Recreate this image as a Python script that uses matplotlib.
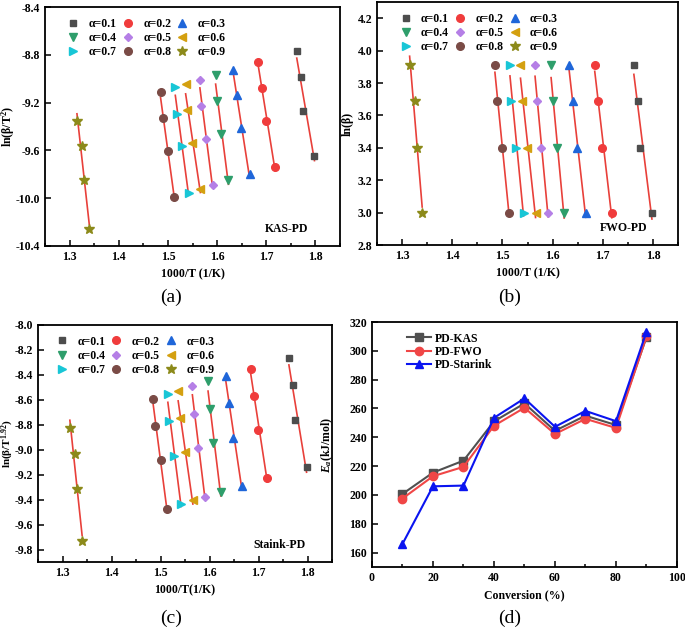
import matplotlib
matplotlib.use('Agg')
import matplotlib.pyplot as plt
from matplotlib.ticker import MultipleLocator, FormatStrFormatter
import numpy as np

plt.rcParams['font.family'] = ['Liberation Serif', 'DejaVu Serif']
plt.rcParams['font.weight'] = 'bold'
plt.rcParams['axes.labelweight'] = 'bold'
plt.rcParams['axes.unicode_minus'] = False
plt.rcParams['mathtext.fontset'] = 'custom'
plt.rcParams['mathtext.rm'] = 'Liberation Serif:bold'
plt.rcParams['mathtext.it'] = 'Liberation Serif:italic:bold'
plt.rcParams['mathtext.bf'] = 'Liberation Serif:bold'

# datos (orden alfa 0.1 ... 0.9)
alfas = ['0.1', '0.2', '0.3', '0.4', '0.5', '0.6', '0.7', '0.8', '0.9']
x_50 = [1.762, 1.684, 1.633, 1.597, 1.565, 1.536, 1.515, 1.485, 1.315]
x_40 = [1.770, 1.691, 1.640, 1.600, 1.568, 1.539, 1.518, 1.489, 1.325]
x_30 = [1.775, 1.699, 1.648, 1.608, 1.577, 1.549, 1.528, 1.500, 1.330]
x_20 = [1.798, 1.718, 1.666, 1.623, 1.591, 1.566, 1.542, 1.513, 1.340]

# FWO: ln(beta)
fwo_y = [3.91, 3.69, 3.40, 3.00]

# KAS: ln(beta/T^2)
kas_50 = [-8.770, -8.861, -8.923, -8.968, -9.008, -9.046, -9.072, -9.113, -9.355]
kas_40 = [-8.985, -9.076, -9.138, -9.187, -9.227, -9.264, -9.292, -9.331, -9.564]
kas_30 = [-9.267, -9.354, -9.416, -9.464, -9.503, -9.539, -9.566, -9.603, -9.844]
kas_20 = [-9.646, -9.738, -9.799, -9.851, -9.891, -9.923, -9.954, -9.992, -10.262]

# Starink: ln(beta/T^1.92)
sta_50 = [-8.263, -8.351, -8.410, -8.453, -8.491, -8.528, -8.553, -8.592, -8.825]
sta_40 = [-8.478, -8.566, -8.625, -8.672, -8.711, -8.746, -8.773, -8.810, -9.034]
sta_30 = [-8.761, -8.844, -8.903, -8.950, -8.987, -9.022, -9.048, -9.083, -9.314]
sta_20 = [-9.141, -9.228, -9.287, -9.338, -9.376, -9.406, -9.436, -9.472, -9.730]

# Energia de activacion vs conversion
conversion = [10, 20, 30, 40, 50, 60, 70, 80, 90]
ea_kas = [200.7, 215.5, 223.8, 251.0, 263.5, 244.5, 255.0, 248.5, 309.5]
ea_fwo = [197.5, 213.0, 219.5, 248.0, 260.5, 242.3, 252.8, 246.5, 310.0]
ea_starink = [166.0, 206.0, 206.5, 253.5, 267.0, 247.3, 258.3, 251.2, 313.2]

colores = ['#4d4d4d', '#f03c3c', '#1f66d9', '#2e9e6b', '#b57fe6',
           '#d4a010', '#18c6d6', '#7a4b46', '#8c8a1a']
marcadores = ['s', 'o', '^', 'v', 'D', '<', '>', 'o', '*']
tamanos = [5, 5.5, 5.5, 5.5, 4.5, 5.5, 5.5, 5.5, 7.5]
color_ajuste = '#e8403a'

fig = plt.figure(figsize=(6.85, 6.32), dpi=100)
ax_a = fig.add_axes([0.0657, 0.6108, 0.4307, 0.378])
ax_b = fig.add_axes([0.5504, 0.6123, 0.4394, 0.3845])
ax_c = fig.add_axes([0.0555, 0.1108, 0.4292, 0.375])
ax_d = fig.add_axes([0.543, 0.1028, 0.4453, 0.3877])


def estilo(ax):
    for s in ax.spines.values():
        s.set_linewidth(1.3)
    ax.tick_params(direction='in', which='both', top=False, right=False,
                   labelsize=8.5, width=1.1)
    ax.tick_params(which='major', length=4)
    ax.tick_params(which='minor', length=2.5)
    for lab in ax.get_xticklabels() + ax.get_yticklabels():
        lab.set_fontweight('bold')


def panel_ajuste(ax, filas_y, etiqueta_y, texto, pos_y, x_ley, tam_y=8.5):
    xs = np.array([x_50, x_40, x_30, x_20])
    ys = np.array(filas_y)
    handles = []
    for i in range(len(alfas)):
        xi = xs[:, i]
        yi = ys[:, i]
        p = np.polyfit(xi, yi, 1)
        xl = np.array([xi.min(), xi.max()])
        ax.plot(xl, np.polyval(p, xl), color=color_ajuste, lw=1.2, zorder=2)
        h, = ax.plot(xi, yi, ls='none', marker=marcadores[i], color=colores[i],
                     ms=tamanos[i], mec=colores[i], zorder=3,
                     label='\u03b1=' + alfas[i])
        handles.append(h)
    # leyenda por filas (0.1 0.2 0.3 / 0.4 ...)
    orden = [0, 3, 6, 1, 4, 7, 2, 5, 8]
    hs = [handles[k] for k in orden]
    ax.legend(hs, [h.get_label() for h in hs], loc='upper left',
              bbox_to_anchor=(x_ley, 1.0), ncol=3,
              frameon=False, handlelength=1.0,
              handletextpad=0.8, columnspacing=0.45, labelspacing=0.2,
              prop={'weight': 'bold', 'size': 8.5})
    ax.set_xlim(1.25, 1.85)
    ax.xaxis.set_major_locator(MultipleLocator(0.1))
    ax.xaxis.set_minor_locator(MultipleLocator(0.05))
    ax.xaxis.set_major_formatter(FormatStrFormatter('%.1f'))
    ax.yaxis.set_major_formatter(FormatStrFormatter('%.1f'))
    ax.set_ylabel(etiqueta_y, fontsize=tam_y)
    ax.yaxis.set_label_coords(pos_y, 0.5)
    ax.text(0.82, 0.07, texto, transform=ax.transAxes, ha='center',
            va='center', fontsize=8.5, fontweight='bold')
    estilo(ax)


# (a) KAS
panel_ajuste(ax_a, [kas_50, kas_40, kas_30, kas_20],
             'ln(\u03b2/T$^{2}$)', 'KAS-PD', -0.095, 0.04)
ax_a.set_ylim(-10.4, -8.4)
ax_a.yaxis.set_major_locator(MultipleLocator(0.4))
ax_a.set_xlabel('1000/T (1/K)', fontsize=8.5)

# (b) FWO
filas_fwo = [[v] * len(alfas) for v in fwo_y]
panel_ajuste(ax_b, filas_fwo, 'ln(\u03b2)', 'FWO-PD', -0.076, 0.04)
ax_b.set_ylim(2.8, 4.3)
ax_b.yaxis.set_major_locator(MultipleLocator(0.2))
ax_b.set_xlabel('1000/T (1/K)', fontsize=8.5)

# (c) Starink
panel_ajuste(ax_c, [sta_50, sta_40, sta_30, sta_20],
             'ln(\u03b2/T$^{1.92}$)', 'Staink-PD', -0.076, 0.025, tam_y=8)
ax_c.set_ylim(-9.9, -8.0)
ax_c.yaxis.set_major_locator(MultipleLocator(0.2))
ax_c.set_xlabel('1000/T(1/K)', fontsize=8.5)

# (d) Ea vs conversion
ax_d.plot(conversion, ea_kas, color='#505050', marker='s', ms=5.5, lw=1.5,
          label='PD-KAS')
ax_d.plot(conversion, ea_fwo, color='#f04646', marker='o', ms=6, lw=1.5,
          label='PD-FWO')
ax_d.plot(conversion, ea_starink, color='#0a14f0', marker='^', ms=6, lw=1.5,
          label='PD-Starink')
ax_d.set_xlim(0, 100)
ax_d.set_ylim(150, 320)
ax_d.xaxis.set_major_locator(MultipleLocator(20))
ax_d.xaxis.set_minor_locator(MultipleLocator(10))
ax_d.yaxis.set_major_locator(MultipleLocator(20))
ax_d.set_xlabel('Conversion (%)', fontsize=8.5)
ax_d.set_ylabel('$E_a$(kJ/mol)', fontsize=8.5)
ax_d.yaxis.set_label_coords(-0.12, 0.5)
ax_d.legend(loc='upper left', bbox_to_anchor=(0.08, 1.0), frameon=False,
            handlelength=2.0, handletextpad=0.4, labelspacing=0.12,
            prop={'weight': 'bold', 'size': 8.5})
estilo(ax_d)

fig.text(171 / 685, 1 - 297 / 632, '(a)', ha='center', va='center',
         fontsize=14, fontweight='normal')
fig.text(510 / 685, 1 - 297 / 632, '(b)', ha='center', va='center',
         fontsize=14, fontweight='normal')
fig.text(171 / 685, 1 - 618 / 632, '(c)', ha='center', va='center',
         fontsize=14, fontweight='normal')
fig.text(510 / 685, 1 - 618 / 632, '(d)', ha='center', va='center',
         fontsize=14, fontweight='normal')

plt.savefig('out.png', dpi=100)
plt.close()
